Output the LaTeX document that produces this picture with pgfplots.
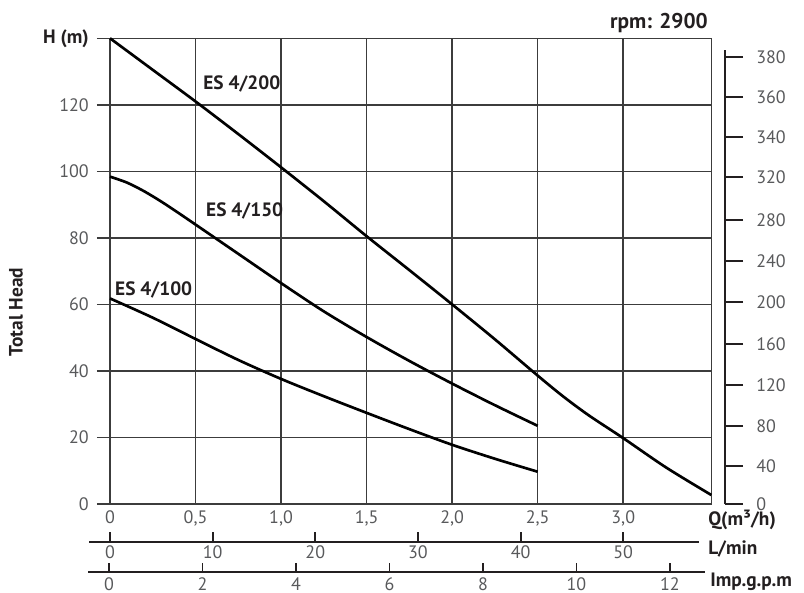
\documentclass[border=0pt]{standalone}
\usepackage{fontspec}
\setmainfont{PT Sans}
\usepackage{pgfplots}
\pgfplotsset{compat=1.18}
\definecolor{tk}{HTML}{58595B}
\definecolor{ink}{HTML}{231F20}
\definecolor{gridc}{HTML}{3C3C3C}
\newcommand{\tickfont}{\fontsize{13.5}{15}\selectfont}
\newcommand{\lblfont}{\fontsize{14.5}{16}\selectfont\bfseries}
\begin{document}
\begin{tikzpicture}
\path[use as bounding box] (0,0) rectangle (603pt,-444.75pt);

% main axis
\begin{axis}[
  at={(82.5pt,-378pt)}, anchor=south west,
  scale only axis, width=451pt, height=349.3pt,
  xmin=0, xmax=3.515, ymin=0, ymax=140,
  xtick={0,0.5,1,1.5,2,2.5,3},
  xticklabels={0,{0,5},{1,0},{1,5},{2,0},{2,5},{3,0}},
  ytick={0,20,40,60,80,100,120,140},
  yticklabels={0,20,40,60,80,100,120,{\color{ink}\lblfont H (m)}},
  grid=major,
  major grid style={gridc, line width=1.1pt},
  axis line style={gridc, line width=1.1pt},
  xtick align=inside, ytick align=outside,
  ytick pos=left,
  major tick length=9.75pt,
  tick style={gridc, line width=1.1pt},
  ticklabel style={font=\tickfont, text=tk},
  xticklabel style={anchor=north, inner sep=0pt, yshift=-5pt},
  yticklabel style={anchor=east, inner sep=0pt, xshift=-6pt},
  clip=false,
]
\addplot[black, line width=2pt, smooth] coordinates {
(0,140) (0.25,130.5) (0.5,121) (0.75,111.2) (1.0,101.2) (1.25,91) (1.5,80.5) (1.75,70.3) (2.0,60) (2.25,49.5) (2.5,38.6) (2.65,32.3) (2.8,26.6) (3.0,19.8) (3.25,11.0) (3.515,2.7)
};
\addplot[black, line width=2pt, smooth] coordinates {
(0,98.4) (0.1,96.6) (0.2,94.0) (0.3,90.9) (0.4,87.5) (0.5,84.0) (0.75,75.2) (1.0,66.4) (1.25,57.9) (1.5,50.2) (1.75,43.0) (2.0,36.2) (2.25,29.7) (2.5,23.5)
};
\addplot[black, line width=2pt, smooth] coordinates {
(0,61.8) (0.25,56.0) (0.5,49.6) (0.75,43.3) (1.0,37.6) (1.25,32.4) (1.5,27.4) (1.75,22.5) (2.0,17.8) (2.25,13.6) (2.5,9.7)
};
\node[anchor=base west, inner sep=0pt, text=ink, font=\lblfont] at (axis cs:0.544,124.6) {ES 4/200};
\node[anchor=base west, inner sep=0pt, text=ink, font=\lblfont] at (axis cs:0.561,86.4) {ES 4/150};
\node[anchor=base west, inner sep=0pt, text=ink, font=\lblfont] at (axis cs:0.029,62.7) {ES 4/100};
\end{axis}

% L/min scale
\begin{axis}[
  at={(66.75pt,-406.5pt)}, anchor=south west,
  scale only axis, width=457.7pt, height=10pt,
  xmin=-2.046, xmax=57.41, ymin=0, ymax=1,
  axis x line*=bottom, hide y axis,
  xtick={0,10,20,30,40,50},
  xticklabels={0,10,20,30,40,50},
  xtick align=inside, major tick length=7.5pt,
  axis line style={ink, line width=1.4pt},
  tick style={ink, line width=1.4pt},
  ticklabel style={font=\tickfont, text=tk},
  xticklabel style={anchor=north, inner sep=0pt, yshift=-2.25pt},
]
\end{axis}

% Imp.g.p.m scale
\begin{axis}[
  at={(66pt,-429pt)}, anchor=south west,
  scale only axis, width=462.75pt, height=10pt,
  xmin=-0.449, xmax=12.75, ymin=0, ymax=1,
  axis x line*=bottom, hide y axis,
  xtick={0,2,4,6,8,10,12},
  xticklabels={0,2,4,6,8,10,12},
  xtick align=inside, major tick length=7pt,
  axis line style={ink, line width=1.4pt},
  tick style={ink, line width=1.4pt},
  ticklabel style={font=\tickfont, text=tk},
  xticklabel style={anchor=north, inner sep=0pt, yshift=-4.25pt},
]
\end{axis}

% right scale
\begin{axis}[
  at={(543.75pt,-378pt)}, anchor=south east,
  scale only axis, width=10pt, height=340.5pt,
  xmin=0, xmax=1, ymin=0, ymax=136.46,
  axis y line*=right, hide x axis,
  ytick={0,11.5,23.5,35.8,48.1,60.8,73.1,85.4,98.3,110.3,122.3,134.4},
  yticklabels={0,40,80,120,160,200,240,280,320,340,360,380},
  ytick align=outside, major tick length=13.5pt,
  axis line style={ink, line width=1.5pt},
  tick style={ink, line width=1.5pt},
  ticklabel style={font=\tickfont, text=tk},
  yticklabel style={anchor=west, inner sep=0pt, xshift=9.75pt},
]
\end{axis}

\node[anchor=west, inner sep=0pt, text=ink, font=\lblfont] at (531pt,-389.75pt) {Q(m³/h)};
\node[anchor=west, inner sep=0pt, text=ink, font=\lblfont] at (531pt,-411.75pt) {L/min};
\node[anchor=west, inner sep=0pt, text=ink, font=\lblfont] at (532.5pt,-436.5pt) {Imp.g.p.m};
\node[anchor=base east, inner sep=0pt, text=ink, font=\fontsize{16}{18}\selectfont\bfseries] at (531pt,-21pt) {rpm: 2900};
\node[rotate=90, inner sep=0pt, text=ink, font=\lblfont] at (12pt,-234pt) {Total Head};
\end{tikzpicture}
\end{document}
